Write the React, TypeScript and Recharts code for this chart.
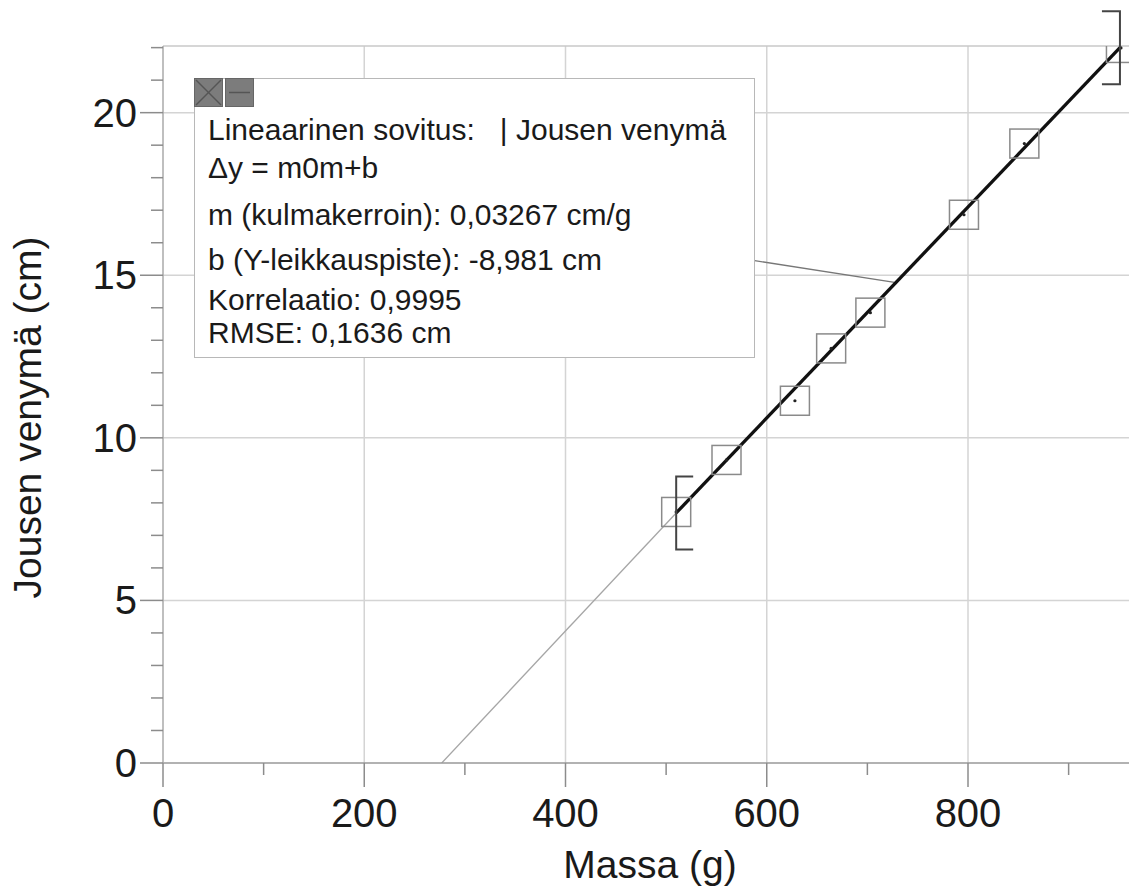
import React from "react";
import { ComposedChart, XAxis, YAxis, Line, Scatter, ReferenceLine, ReferenceDot } from "recharts";

const FONT = "'Liberation Sans', Arial, sans-serif";

// measured points (mass g, stretch cm)
const MASS = [510, 560, 628, 664, 703, 796, 856, 952];
const STRETCH = [7.72, 9.32, 11.14, 12.75, 13.85, 16.86, 19.05, 21.99];

// fitted line over the selected range, and its thin extension down to the x axis
const FIT_X = [510, 951];
const FIT_Y = [7.69, 22.0];
const EXT_X = [277, 510];
const EXT_Y = [0, 7.69];

// range brackets at the ends of the fit
const BRACKET_X = [510, 951];
const BRACKET_Y = [7.69, 22.0];

// pointer from the info box to the fit line
const CALLOUT_X = [588, 727];
const CALLOUT_Y = [15.45, 14.78];

const X_TICKS = [0, 100, 200, 300, 400, 500, 600, 700, 800, 900];
const Y_TICKS = [0, 1, 2, 3, 4, 5, 6, 7, 8, 9, 10, 11, 12, 13, 14, 15, 16, 17, 18, 19, 20, 21, 22];
const X_GRID = [200, 400, 600, 800];
const Y_GRID = [5, 10, 15, 20];
const X_MAX = 960;
const Y_MAX = 22.05;

const INFO_LINES = [
  "Lineaarinen sovitus:   | Jousen venymä",
  "\u0394y = m0m+b",
  "m (kulmakerroin): 0,03267 cm/g",
  "b (Y-leikkauspiste): -8,981 cm",
  "Korrelaatio: 0,9995",
  "RMSE: 0,1636 cm",
];

const points = MASS.map((x, i) => ({ x, y: STRETCH[i] }));
const fitData = FIT_X.map((x, i) => ({ x, y: FIT_Y[i] }));
const extData = EXT_X.map((x, i) => ({ x, y: EXT_Y[i] }));

function XTick({ x, y, payload }: any) {
  const major = payload.value % 200 === 0;
  return (
    <g>
      <line x1={x} y1={y} x2={x} y2={y + (major ? 24 : 12)} stroke="#8c8c8c" strokeWidth={1.5} />
      {major && (
        <text x={x} y={y + 64} textAnchor="middle" fontSize={40} fontFamily={FONT} fill="#1a1a1a">
          {payload.value}
        </text>
      )}
    </g>
  );
}

function YTick({ x, y, payload }: any) {
  const major = payload.value % 5 === 0;
  return (
    <g>
      <line x1={x} y1={y} x2={x - (major ? 23 : 12)} y2={y} stroke="#8c8c8c" strokeWidth={1.5} />
      {major && (
        <text x={x - 26} y={y + 14} textAnchor="end" fontSize={40} fontFamily={FONT} fill="#1a1a1a">
          {payload.value}
        </text>
      )}
    </g>
  );
}

function PointBox(props: any) {
  const { cx, cy } = props;
  if (cx == null || cy == null) return null;
  return (
    <g>
      <rect x={cx - 14.5} y={cy - 14.5} width={29} height={29} fill="none" stroke="#8a8a8a" strokeWidth={1.5} />
      <circle cx={cx} cy={cy} r={1.6} fill="#222" />
    </g>
  );
}

function bracketShape(side: "left" | "right") {
  return (props: any) => {
    const { cx, cy } = props;
    const h = 36.5;
    const w = side === "left" ? 17 : -18;
    return (
      <path
        d={`M${cx + w},${cy - h} L${cx},${cy - h} L${cx},${cy + h} L${cx + w},${cy + h}`}
        fill="none"
        stroke="#444"
        strokeWidth={2}
      />
    );
  };
}

function InfoBox() {
  const tops = [35.6, 73.6, 120.6, 165.6, 205.6, 238.6];
  return (
    <div
      style={{
        position: "absolute",
        left: 194,
        top: 78,
        width: 561,
        height: 280,
        boxSizing: "border-box",
        border: "1px solid #b8b8b8",
        background: "#fff",
        fontFamily: FONT,
        color: "#1a1a1a",
      }}
    >
      <svg width={60} height={29} style={{ position: "absolute", left: -1, top: -1 }}>
        <rect x={0.5} y={0.5} width={28} height={28} fill="#7c7c7c" stroke="#666" />
        <line x1={2} y1={2} x2={27} y2={27} stroke="#555" strokeWidth={1.5} />
        <line x1={27} y1={2} x2={2} y2={27} stroke="#555" strokeWidth={1.5} />
        <rect x={31.5} y={0.5} width={28} height={28} fill="#7c7c7c" stroke="#666" />
        <line x1={35} y1={14.5} x2={56} y2={14.5} stroke="#555" strokeWidth={1.5} />
      </svg>
      {INFO_LINES.map((t, i) => (
        <div
          key={i}
          style={{
            position: "absolute",
            left: 13,
            top: tops[i],
            fontSize: 30,
            lineHeight: "30px",
            whiteSpace: "pre",
          }}
        >
          {t}
        </div>
      ))}
    </div>
  );
}

export default function App() {
  return (
    <div style={{ position: "absolute", left: 0, top: 0, width: 1129, height: 890, background: "#fff" }}>
      <ComposedChart width={1129} height={890} margin={{ top: 46, right: 0, bottom: 0, left: 0 }}>
        <XAxis
          type="number"
          dataKey="x"
          domain={[0, X_MAX]}
          ticks={X_TICKS}
          interval={0}
          tickSize={0}
          tickMargin={0}
          tickLine={false}
          tick={<XTick />}
          height={127}
          axisLine={{ stroke: "#999", strokeWidth: 1.5 }}
          label={(p: any) => {
            const vb = p.viewBox || { x: 163, y: 763, width: 966, height: 127 };
            return (
              <text x={vb.x + vb.width / 2 + 4} y={vb.y + 115} textAnchor="middle" fontSize={39} fontFamily={FONT} fill="#1a1a1a">
                Massa (g)
              </text>
            );
          }}
        />
        <YAxis
          type="number"
          dataKey="y"
          domain={[0, Y_MAX]}
          ticks={Y_TICKS}
          interval={0}
          tickSize={0}
          tickMargin={0}
          tickLine={false}
          tick={<YTick />}
          width={163}
          allowDataOverflow
          axisLine={{ stroke: "#aaa", strokeWidth: 1.5 }}
          label={(p: any) => {
            const vb = p.viewBox || { x: 0, y: 46, width: 163, height: 717 };
            const cy = vb.y + vb.height / 2 + 13;
            return (
              <text x={41} y={cy} transform={`rotate(-90, 41, ${cy})`} textAnchor="middle" fontSize={39} fontFamily={FONT} fill="#1a1a1a">
                Jousen venymä (cm)
              </text>
            );
          }}
        />
        {X_GRID.map((v) => (
          <ReferenceLine key={"gx" + v} x={v} stroke="#d4d4d4" strokeWidth={1.5} />
        ))}
        {Y_GRID.map((v) => (
          <ReferenceLine key={"gy" + v} y={v} stroke="#d4d4d4" strokeWidth={1.5} />
        ))}
        <ReferenceLine y={Y_MAX} stroke="#c8c8c8" strokeWidth={1.5} />
        <ReferenceLine
          segment={[
            { x: CALLOUT_X[0], y: CALLOUT_Y[0] },
            { x: CALLOUT_X[1], y: CALLOUT_Y[1] },
          ]}
          stroke="#777"
          strokeWidth={1.3}
        />
        <Scatter data={points} dataKey="y" shape={PointBox} isAnimationActive={false} />
        <Line data={extData} dataKey="y" stroke="#a6a6a6" strokeWidth={1.3} dot={false} isAnimationActive={false} />
        <Line data={fitData} dataKey="y" stroke="#111" strokeWidth={3.3} dot={false} isAnimationActive={false} />
        <ReferenceDot x={BRACKET_X[0]} y={BRACKET_Y[0]} ifOverflow="visible" shape={bracketShape("left")} />
        <ReferenceDot x={BRACKET_X[1]} y={BRACKET_Y[1]} ifOverflow="visible" shape={bracketShape("right")} />
      </ComposedChart>
      <InfoBox />
    </div>
  );
}
